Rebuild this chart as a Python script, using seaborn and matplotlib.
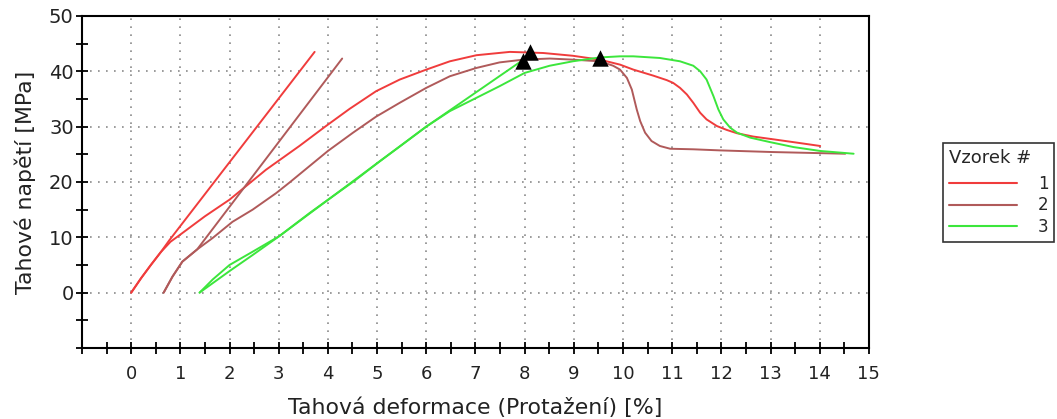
import numpy as np
import pandas as pd
import matplotlib
matplotlib.use("Agg")
import matplotlib.pyplot as plt
import seaborn as sns
from matplotlib.ticker import FixedLocator
from matplotlib.lines import Line2D

# ---- data ----
s1_curve_x = [0, 0.2, 0.4, 0.6, 0.8, 1.0, 1.5, 2.0, 2.74, 3.42, 3.96, 4.44, 4.98, 5.46, 6.0, 6.48, 7.02, 7.7, 8.38,
              8.98, 9.53, 9.94, 10.21, 10.62, 10.89, 11.02, 11.16, 11.30, 11.43, 11.57, 11.70, 11.91, 12.11, 12.32,
              12.65, 13.06, 13.54, 14.01]
s1_curve_y = [0, 2.6, 5.0, 7.3, 9.2, 10.5, 13.8, 16.8, 22.2, 26.5, 30.1, 33.2, 36.4, 38.5, 40.3, 41.8, 42.9, 43.5, 43.3,
              42.8, 42.1, 41.2, 40.3, 39.2, 38.4, 37.9, 37.0, 35.8, 34.3, 32.5, 31.3, 30.1, 29.4, 28.8,
              28.2, 27.7, 27.1, 26.5]
s1_line_x = [0, 0.2, 0.4, 0.6, 0.77, 3.73]
s1_line_y = [0, 2.6, 5.0, 7.3, 9.4, 43.5]

s2_curve_x = [0.66, 0.84, 1.04, 1.34, 1.66, 2.06, 2.47, 2.95, 3.22, 4.0, 4.51, 4.98, 5.46, 6.0, 6.48, 7.02, 7.49, 7.97,
              8.51, 8.98, 9.53, 9.80, 9.94, 10.08, 10.18, 10.28, 10.35, 10.45, 10.58, 10.75, 10.96, 11.43, 11.98,
              13.06, 14.52]
s2_curve_y = [0, 2.9, 5.6, 7.8, 9.9, 12.8, 15.0, 18.0, 19.9, 25.6, 28.9, 31.8, 34.3, 37.0, 39.1, 40.6, 41.6, 42.1,
              42.3, 42.1, 41.8, 41.0, 40.3, 38.8, 36.7, 33.1, 31.0, 28.9, 27.4, 26.5, 26.0, 25.9, 25.7,
              25.4, 25.1]
s2_line_x = [0.66, 0.84, 1.04, 1.34, 4.29]
s2_line_y = [0, 2.9, 5.6, 7.8, 42.3]

s3_curve_x = [1.39, 1.66, 2.0, 2.47, 3.01, 3.63, 4.24, 4.54, 5.05, 5.46, 6.0, 6.48, 7.02, 7.49, 8.0, 8.51, 8.98, 9.53,
              9.94, 10.21, 10.75, 11.16, 11.43, 11.57, 11.70, 11.84, 11.94, 12.04, 12.18, 12.32, 12.59, 12.99, 13.47,
              14.01, 14.42, 14.69]
s3_curve_y = [0, 2.4, 5.0, 7.4, 10.2, 14.4, 18.3, 20.2, 23.7, 26.4, 30.0, 32.8, 35.2, 37.3, 39.7, 41.0, 41.8, 42.5,
              42.7, 42.7, 42.4, 41.8, 41.0, 40.0, 38.5, 35.5, 33.1, 31.3, 29.8, 28.9, 28.0, 27.2, 26.3,
              25.6, 25.3, 25.1]
s3_line_x = [1.39, 2.0, 2.47, 3.01, 6.0, 7.96]
s3_line_y = [0, 3.9, 6.8, 10.2, 30.0, 42.0]

peak_x = [8.1, 7.96, 9.53]
peak_y = [43.5, 41.9, 42.4]

samples = ["1", "2", "3"]
colors = ["#F03C3C", "#B05A5A", "#3CE63C"]

x_ticks = list(range(0, 16))
y_ticks = [0, 10, 20, 30, 40, 50]

# ---- build long table ----
rows = []
segs = [
    ("1", "1a", s1_curve_x, s1_curve_y), ("1", "1b", s1_line_x, s1_line_y),
    ("2", "2a", s2_curve_x, s2_curve_y), ("2", "2b", s2_line_x, s2_line_y),
    ("3", "3a", s3_curve_x, s3_curve_y), ("3", "3b", s3_line_x, s3_line_y),
]
for s, seg, xs, ys in segs:
    for xv, yv in zip(xs, ys):
        rows.append({"x": xv, "y": yv, "sample": s, "seg": seg})
df = pd.DataFrame(rows)
peaks = pd.DataFrame({"x": peak_x, "y": peak_y})

sns.set_style("white")
plt.rcParams["font.family"] = ["DejaVu Sans"]

fig = plt.figure(figsize=(10.57, 4.19), dpi=100)
ax = fig.add_axes([0.0776, 0.1695, 0.822 - 0.0776, 0.962 - 0.1695])

sns.lineplot(data=df, x="x", y="y", hue="sample", units="seg", estimator=None,
             sort=False, palette=dict(zip(samples, colors)), linewidth=1.4,
             ax=ax, legend=False)
for ln in ax.lines:
    ln.set_solid_joinstyle("round")
sns.scatterplot(data=peaks, x="x", y="y", marker="^", color="black", s=140,
                edgecolor="black", linewidth=0, ax=ax, zorder=5)

ax.set_xlim(-1, 15)
ax.set_ylim(-10, 50)

ax.xaxis.set_major_locator(FixedLocator(x_ticks))
ax.xaxis.set_minor_locator(FixedLocator(list(np.arange(-1, 15.01, 0.5))))
ax.yaxis.set_major_locator(FixedLocator(y_ticks))
ax.yaxis.set_minor_locator(FixedLocator(list(range(-10, 51, 5))))
ax.set_xticklabels([str(t) for t in x_ticks])
ax.set_yticklabels([str(t) for t in y_ticks])

ax.tick_params(which="both", direction="inout", length=9, width=1.3,
               color="black", left=True, bottom=True, top=False, right=False)
ax.tick_params(axis="x", which="major", labelsize=13, pad=8, labelcolor="#222222")
ax.tick_params(axis="y", which="major", labelsize=14, pad=1.5, labelcolor="#222222")

for sp in ax.spines.values():
    sp.set_color("black")
    sp.set_linewidth(1.5)

ax.grid(True, which="major", color="#8a8a8a", linestyle=(0, (1, 3.8)), linewidth=1.2)
ax.set_axisbelow(True)

ax.set_xlabel("Tahová deformace (Protažení) [%]", fontsize=15.8, color="#222222", labelpad=10)
ax.set_ylabel("Tahové napětí [MPa]", fontsize=15.8, color="#222222", labelpad=9)

handles = [Line2D([], [], color=c, linewidth=1.5) for c in colors]
leg = fig.legend(handles, samples, title="Vzorek #", loc="upper left",
                 bbox_to_anchor=(943 / 1057, 1 - 143 / 419), fontsize=12,
                 title_fontsize=13, frameon=True, fancybox=False,
                 handlelength=4.1, handletextpad=1.25, labelspacing=0.2,
                 borderpad=0.35, borderaxespad=0, alignment="left")
leg._legend_box.sep = 6
leg.get_frame().set_edgecolor("black")
leg.get_frame().set_linewidth(1.2)

fig.savefig("out.png", dpi=100)
